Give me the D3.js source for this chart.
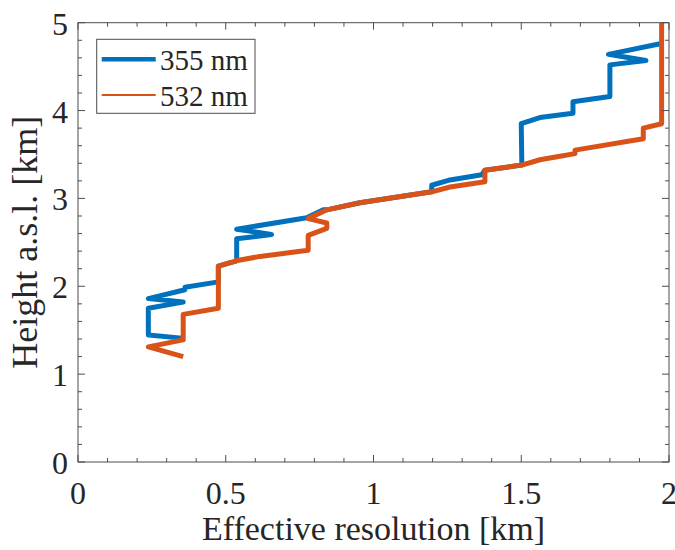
<!DOCTYPE html>
<meta charset="utf-8">
<script src="https://d3js.org/d3.v7.min.js"></script>
<style>
  body { margin: 0; background: #fff; }
  text { font-family: "Liberation Serif", "Times New Roman", serif; fill: #262626; }
</style>
<svg id="chart" width="675" height="550"></svg>
<script>

  // Series: [effective resolution (km), height a.s.l. (km)]
  var series355 = [
    [0.351, 1.41], [0.238, 1.445], [0.238, 1.75], [0.356, 1.82], [0.238, 1.86],
    [0.362, 1.96], [0.362, 1.99], [0.475, 2.05], [0.475, 2.23], [0.537, 2.29],
    [0.537, 2.54], [0.655, 2.59], [0.537, 2.65], [0.774, 2.78], [0.83, 2.87],
    [0.842, 2.87], [0.954, 2.95], [1.197, 3.075], [1.197, 3.15], [1.259, 3.21],
    [1.366, 3.27], [1.377, 3.32], [1.502, 3.38], [1.50, 3.85], [1.563, 3.92],
    [1.675, 3.97], [1.675, 4.10], [1.80, 4.16], [1.80, 4.52], [1.922, 4.57],
    [1.795, 4.64], [1.97, 4.76]
  ];
  var series532 = [
    [0.356, 1.20], [0.238, 1.31], [0.356, 1.39], [0.356, 1.68], [0.475, 1.75],
    [0.475, 2.23], [0.535, 2.29], [0.616, 2.34], [0.779, 2.41], [0.779, 2.58],
    [0.842, 2.66], [0.842, 2.72], [0.779, 2.77], [0.842, 2.87], [0.954, 2.95],
    [1.197, 3.075], [1.259, 3.13], [1.377, 3.19], [1.377, 3.32], [1.502, 3.38],
    [1.563, 3.44], [1.631, 3.48], [1.682, 3.51], [1.682, 3.55], [1.913, 3.68],
    [1.913, 3.80], [1.975, 3.85], [1.975, 5.0]
  ];
  var seriesNames = ["355 nm", "532 nm"];
  var seriesColors = ["#0072BD", "#D95319"];

  var xTicks = [0, 0.5, 1, 1.5, 2];
  var xTickLabels = ["0", "0.5", "1", "1.5", "2"];
  var yTicks = [0, 1, 2, 3, 4, 5];
  var yTickLabels = ["0", "1", "2", "3", "4", "5"];
  var xMinor = d3.range(0, 21).map(function(i) { return i / 10; });
  var yMinor = d3.range(0, 26).map(function(i) { return i / 5; });

  var svg = d3.select("#chart");
  var pLeft = 78, pRight = 669, pTop = 22.7, pBottom = 462;

  var x = d3.scaleLinear().domain([0, 2]).range([pLeft, pRight]);
  var y = d3.scaleLinear().domain([0, 5]).range([pBottom, pTop]);

  svg.append("defs").append("clipPath").attr("id", "plotclip")
    .append("rect")
    .attr("x", pLeft).attr("y", pTop)
    .attr("width", pRight - pLeft).attr("height", pBottom - pTop);

  // data lines
  var line = d3.line()
    .x(function(d) { return x(d[0]); })
    .y(function(d) { return y(d[1]); });

  var g = svg.append("g").attr("clip-path", "url(#plotclip)");
  [series355, series532].forEach(function(s, i) {
    g.append("path")
      .datum(s)
      .attr("d", line)
      .attr("fill", "none")
      .attr("stroke", seriesColors[i])
      .attr("stroke-width", 5)
      .attr("stroke-linejoin", "round");
  });

  // axes box with inward ticks
  var axisColor = "#4d4d4d";
  svg.append("rect")
    .attr("x", pLeft).attr("y", pTop)
    .attr("width", pRight - pLeft).attr("height", pBottom - pTop)
    .attr("fill", "none").attr("stroke", axisColor).attr("stroke-width", 1);

  function isMajor(v, list) {
    return list.some(function(t) { return Math.abs(t - v) < 1e-9; });
  }

  var ticks = svg.append("g").attr("stroke", axisColor).attr("stroke-width", 1);
  xMinor.forEach(function(v) {
    var len = isMajor(v, xTicks) ? 7 : 4;
    ticks.append("line").attr("x1", x(v)).attr("x2", x(v)).attr("y1", pBottom).attr("y2", pBottom - len);
    ticks.append("line").attr("x1", x(v)).attr("x2", x(v)).attr("y1", pTop).attr("y2", pTop + len);
  });
  yMinor.forEach(function(v) {
    var len = isMajor(v, yTicks) ? 7 : 4;
    ticks.append("line").attr("y1", y(v)).attr("y2", y(v)).attr("x1", pLeft).attr("x2", pLeft + len);
    ticks.append("line").attr("y1", y(v)).attr("y2", y(v)).attr("x1", pRight).attr("x2", pRight - len);
  });

  // tick labels
  svg.append("g").selectAll("text")
    .data(xTicks)
    .enter().append("text")
    .attr("x", function(d) { return x(d); })
    .attr("y", pBottom + 42)
    .attr("text-anchor", "middle")
    .attr("font-size", 32)
    .text(function(d, i) { return xTickLabels[i]; });

  svg.append("g").selectAll("text")
    .data(yTicks)
    .enter().append("text")
    .attr("x", pLeft - 10)
    .attr("y", function(d) { return y(d) + 12; })
    .attr("text-anchor", "end")
    .attr("font-size", 32)
    .text(function(d, i) { return yTickLabels[i]; });

  // axis titles
  svg.append("text")
    .attr("x", (pLeft + pRight) / 2)
    .attr("y", 540)
    .attr("text-anchor", "middle")
    .attr("font-size", 34)
    .text("Effective resolution [km]");

  svg.append("text")
    .attr("transform", "translate(37," + ((pTop + pBottom) / 2) + ") rotate(-90)")
    .attr("text-anchor", "middle")
    .attr("font-size", 36)
    .text("Height a.s.l. [km]");

  // legend
  var legend = svg.append("g");
  legend.append("rect")
    .attr("x", 96.7).attr("y", 39.3)
    .attr("width", 158.3).attr("height", 74)
    .attr("fill", "#fff").attr("stroke", axisColor).attr("stroke-width", 1);
  var legendY = [59.3, 95];
  var legendW = [4.5, 2];
  seriesNames.forEach(function(name, i) {
    legend.append("line")
      .attr("x1", 101.7).attr("x2", 155.7)
      .attr("y1", legendY[i]).attr("y2", legendY[i])
      .attr("stroke", seriesColors[i]).attr("stroke-width", legendW[i]);
    legend.append("text")
      .attr("x", 160).attr("y", legendY[i] + 10.5)
      .attr("font-size", 29)
      .text(name);
  });

</script>
